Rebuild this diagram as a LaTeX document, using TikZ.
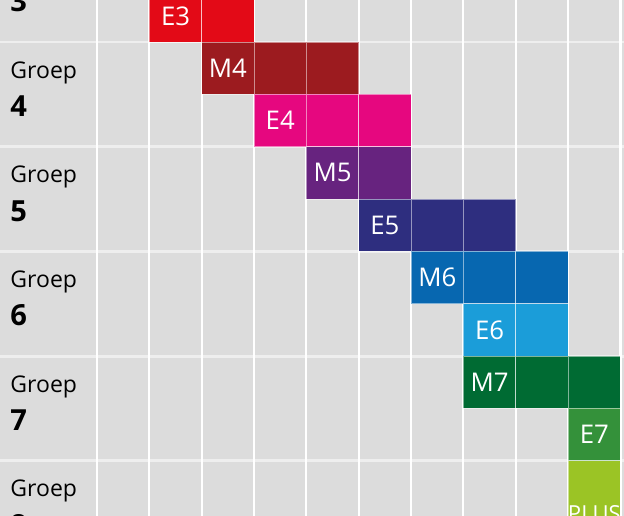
\documentclass[tikz,border=0pt]{standalone}
\usepackage{fontspec}
\setmainfont{Open Sans}
\usetikzlibrary{positioning}

\definecolor{grijs}{HTML}{DCDCDC}
\definecolor{lijn}{HTML}{EEEEEE}
\definecolor{rood}{HTML}{E30A17}
\definecolor{donkerrood}{HTML}{9C1B1F}
\definecolor{roze}{HTML}{E6077F}
\definecolor{paars}{HTML}{67237F}
\definecolor{indigo}{HTML}{2E2E7F}
\definecolor{blauw}{HTML}{0767B0}
\definecolor{lichtblauw}{HTML}{1B9DD9}
\definecolor{donkergroen}{HTML}{006B33}
\definecolor{groen}{HTML}{34913A}
\definecolor{geelgroen}{HTML}{9BC425}

\tikzset{
  cel/.style={minimum width=1cm, minimum height=1cm, inner sep=0pt, outer sep=0pt,
    draw=white, draw opacity=0.5, line width=0.5pt, text=white,
    font=\fontsize{14}{14}\selectfont},
  groep/.style={anchor=base west, inner sep=0pt, font=\fontsize{12.5}{13}\selectfont},
  nummer/.style={anchor=base west, inner sep=0pt, font=\fontsize{15.8}{16}\selectfont\bfseries},
}

\begin{document}
\begin{tikzpicture}
  \useasboundingbox (-1.853,0.802) rectangle (10.067,-9.054);
  \clip (-1.853,0.802) rectangle (10.067,-9.054);
  \fill[grijs] (-1.853,0.802) rectangle (10.067,-9.054);
  \foreach \y in {0,-2,...,-8}
    \draw[lijn, line width=1.6pt] (-2,\y) -- (10.2,\y);
  \foreach \x in {0,...,10}
    \draw[white, line width=1.1pt] (\x,1) -- (\x,-9.2);

  \foreach \g in {3,...,8} {
    \node[groep]  (groep\g) at (-1.66,{-2*(\g-4)-0.69}) {Groep};
    \node[nummer] (num\g)   at (-1.66,{-2*(\g-4)-1.42}) {\g};
  }

  % groep 3
  \node[cel, fill=rood] (e3) at (1.5,0.5) {E3};
  \node[cel, fill=rood, right=0pt of e3] (e3b) {};

  % groep 4
  \node[cel, fill=donkerrood] (m4) at (2.5,-0.5) {M4};
  \node[cel, fill=donkerrood, right=0pt of m4]  (m4b) {};
  \node[cel, fill=donkerrood, right=0pt of m4b] (m4c) {};
  \node[cel, fill=roze] (e4) at (3.5,-1.5) {E4};
  \node[cel, fill=roze, right=0pt of e4]  (e4b) {};
  \node[cel, fill=roze, right=0pt of e4b] (e4c) {};

  % groep 5
  \node[cel, fill=paars] (m5) at (4.5,-2.5) {M5};
  \node[cel, fill=paars, right=0pt of m5] (m5b) {};
  \node[cel, fill=indigo] (e5) at (5.5,-3.5) {E5};
  \node[cel, fill=indigo, right=0pt of e5]  (e5b) {};
  \node[cel, fill=indigo, right=0pt of e5b] (e5c) {};

  % groep 6
  \node[cel, fill=blauw] (m6) at (6.5,-4.5) {M6};
  \node[cel, fill=blauw, right=0pt of m6]  (m6b) {};
  \node[cel, fill=blauw, right=0pt of m6b] (m6c) {};
  \node[cel, fill=lichtblauw] (e6) at (7.5,-5.5) {E6};
  \node[cel, fill=lichtblauw, right=0pt of e6] (e6b) {};

  % groep 7
  \node[cel, fill=donkergroen] (m7) at (7.5,-6.5) {M7};
  \node[cel, fill=donkergroen, right=0pt of m7]  (m7b) {};
  \node[cel, fill=donkergroen, right=0pt of m7b] (m7c) {};
  \node[cel, fill=groen] (e7) at (9.5,-7.5) {E7};

  % groep 8
  \node[cel, fill=geelgroen, minimum height=2cm] (plus) at (9.5,-9) {};
  \node[text=white, inner sep=0pt, font=\fontsize{12}{12}\selectfont] (plustekst) at (plus.center) {PLUS};
\end{tikzpicture}
\end{document}
